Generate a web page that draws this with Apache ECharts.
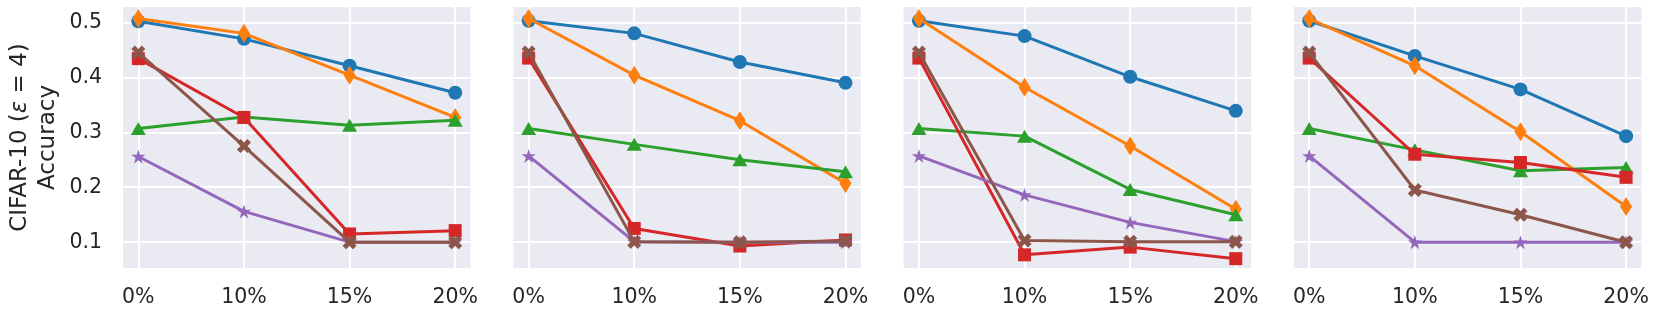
<!DOCTYPE html>
<html>
<head>
<meta charset="utf-8">
<script src="https://cdn.jsdelivr.net/npm/echarts@6/dist/echarts.min.js"></script>
<style>
html,body{margin:0;padding:0;background:#fff;}
#c{width:1661px;height:315px;}
</style>
</head>
<body>
<div id="c"></div>
<script>
const categories = ['0%', '10%', '15%', '20%'];
const yTicks = [0.1, 0.2, 0.3, 0.4, 0.5];
const yLabel = '{a|CIFAR-10 (}{i|ε}{a| = 4)}\n{a|Accuracy}';

// each array: 4 panels x 4 categories
const blueCircle = [
  [0.502, 0.470, 0.421, 0.372],
  [0.503, 0.480, 0.428, 0.390],
  [0.503, 0.475, 0.401, 0.339],
  [0.503, 0.439, 0.378, 0.293]
];
const orangeDiamond = [
  [0.507, 0.480, 0.404, 0.327],
  [0.507, 0.404, 0.321, 0.207],
  [0.507, 0.382, 0.275, 0.160],
  [0.507, 0.421, 0.301, 0.165]
];
const greenTriangle = [
  [0.307, 0.328, 0.313, 0.322],
  [0.307, 0.278, 0.250, 0.228],
  [0.307, 0.293, 0.196, 0.150],
  [0.307, 0.268, 0.230, 0.236]
];
const redSquare = [
  [0.434, 0.327, 0.115, 0.121],
  [0.435, 0.125, 0.093, 0.104],
  [0.435, 0.077, 0.091, 0.070],
  [0.435, 0.260, 0.245, 0.218]
];
const purpleStar = [
  [0.256, 0.156, 0.100, 0.100],
  [0.257, 0.101, 0.100, 0.100],
  [0.257, 0.186, 0.136, 0.101],
  [0.257, 0.100, 0.100, 0.100]
];
const brownX = [
  [0.445, 0.275, 0.100, 0.100],
  [0.445, 0.101, 0.100, 0.102],
  [0.445, 0.103, 0.101, 0.101],
  [0.445, 0.195, 0.150, 0.100]
];

const STAR = 'path://M50 0 L61.2 34.5 L97.6 34.5 L68.2 55.9 L79.4 90.5 L50 69.1 L20.6 90.5 L31.8 55.9 L2.4 34.5 L38.8 34.5 Z';
const XMARK = 'path://M0 25 L25 0 L50 25 L75 0 L100 25 L75 50 L100 75 L75 100 L50 75 L25 100 L0 75 L25 50 Z';

const seriesDefs = [
  {data: blueCircle, color: '#1f77b4', symbol: 'circle', size: 14},
  {data: orangeDiamond, color: '#ff7f0e', symbol: 'diamond', size: [12, 19]},
  {data: greenTriangle, color: '#2ca02c', symbol: 'triangle', size: [15, 13]},
  {data: redSquare, color: '#d62728', symbol: 'rect', size: 13},
  {data: purpleStar, color: '#9467bd', symbol: STAR, size: 14},
  {data: brownX, color: '#8c564b', symbol: XMARK, size: 14}
];

const FONT = 'DejaVu Sans';
const TXT = '#262626';
const grids = [], xAxes = [], yAxes = [], series = [];
for (let p = 0; p < 4; p++) {
  grids.push({
    left: 123 + p * 390.3, width: 347.5, top: 7, height: 261,
    show: true, backgroundColor: '#eaeaf2', borderWidth: 0
  });
  xAxes.push({
    type: 'value', gridIndex: p, min: -0.145, max: 3.145,
    axisLine: {show: false},
    axisTick: {show: false, customValues: [0, 1, 2, 3]},
    axisLabel: {
      customValues: [0, 1, 2, 3],
      formatter: v => categories[Math.round(v)],
      fontFamily: FONT, fontSize: 20.5, color: TXT, margin: 19
    },
    splitLine: {show: true, lineStyle: {color: '#ffffff', width: 2}}
  });
  yAxes.push({
    type: 'value', gridIndex: p, min: 0.053, max: 0.528,
    axisLine: {show: false},
    axisTick: {show: false, customValues: yTicks},
    axisLabel: {
      show: p === 0,
      customValues: yTicks,
      formatter: v => v.toFixed(1),
      fontFamily: FONT, fontSize: 20.5, color: TXT, margin: 21
    },
    splitLine: {show: true, lineStyle: {color: '#ffffff', width: 2}},
    name: p === 0 ? yLabel : '',
    nameLocation: 'middle',
    nameRotate: 90,
    nameGap: 61,
    nameTextStyle: {
      fontFamily: FONT, fontSize: 23, color: TXT, lineHeight: 28,
      rich: {
        a: {fontFamily: FONT, fontSize: 23, color: TXT, lineHeight: 28},
        i: {fontFamily: FONT, fontStyle: 'italic', fontSize: 23, color: TXT, lineHeight: 28}
      }
    }
  });
  seriesDefs.forEach((s, k) => {
    series.push({
      type: 'line', xAxisIndex: p, yAxisIndex: p,
      data: s.data[p].map((v, i) => [i, v]),
      symbol: s.symbol, symbolSize: s.size, showAllSymbol: true,
      lineStyle: {color: s.color, width: 3},
      itemStyle: {color: s.color, borderWidth: 0},
      emphasis: {disabled: true},
      animation: false,
      z: 2 + k * 0.01
    });
  });
}

const chart = echarts.init(document.getElementById('c'), null, {renderer: 'canvas'});
chart.setOption({
  animation: false,
  grid: grids, xAxis: xAxes, yAxis: yAxes, series: series
});
</script>
</body>
</html>
